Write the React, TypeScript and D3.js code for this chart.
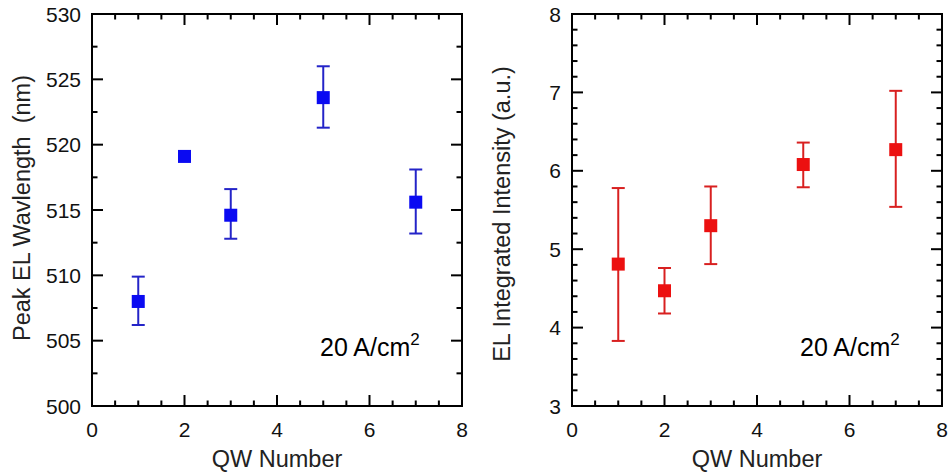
import React from "react";
import * as d3 from "d3";

const qw = [1, 2, 3, 5, 7];
const wavelength = [508.0, 519.1, 514.6, 523.6, 515.6];
const wavelengthHi = [509.9, 519.1, 516.6, 526.0, 518.1];
const wavelengthLo = [506.2, 519.1, 512.8, 521.3, 513.2];

const intensity = [4.81, 4.47, 5.3, 6.08, 6.27];
const intensityHi = [5.78, 4.76, 5.8, 6.36, 7.02];
const intensityLo = [3.83, 4.18, 4.81, 5.79, 5.54];

const xTicks = [0, 2, 4, 6, 8];
const xMinor = d3.range(0, 8.001, 0.5);
const leftYTicks = [500, 505, 510, 515, 520, 525, 530];
const leftYMinor = d3.range(500, 530.001, 2.5);
const rightYTicks = [3, 4, 5, 6, 7, 8];
const rightYMinor = d3.range(3, 8.001, 0.2);

const FONT = "Liberation Sans, Arial, sans-serif";

type PanelProps = {
  x0: number;
  yDomain: [number, number];
  yTicks: number[];
  yMinor: number[];
  ylabel: string;
  ylabelX: number;
  ylabelY: number;
  values: number[];
  hi: number[];
  lo: number[];
  markerColor: string;
  barColor: string;
  showBars: boolean[];
};

function Panel(p: PanelProps) {
  const top = 14;
  const bottom = 406;
  const width = 370;
  const x = d3.scaleLinear().domain([0, 8]).range([p.x0, p.x0 + width]);
  const y = d3.scaleLinear().domain(p.yDomain).range([bottom, top]);
  const isMajorX = (v: number) => xTicks.some((t) => Math.abs(t - v) < 1e-6);
  const isMajorY = (v: number) => p.yTicks.some((t) => Math.abs(t - v) < 1e-6);
  const ms = 13;
  const cap = 13;
  const left = p.x0;
  const right = p.x0 + width;
  return (
    <g>
      {xMinor.map((v, i) => {
        const L = isMajorX(v) ? 11 : 5.5;
        return (
          <g key={"xt" + i} stroke="#000" strokeWidth={2}>
            <line x1={x(v)} x2={x(v)} y1={bottom} y2={bottom - L} />
            <line x1={x(v)} x2={x(v)} y1={top} y2={top + L} />
          </g>
        );
      })}
      {p.yMinor.map((v, i) => {
        const L = isMajorY(v) ? 11 : 5.5;
        return (
          <g key={"yt" + i} stroke="#000" strokeWidth={2}>
            <line x1={left} x2={left + L} y1={y(v)} y2={y(v)} />
            <line x1={right} x2={right - L} y1={y(v)} y2={y(v)} />
          </g>
        );
      })}
      <rect x={left} y={top} width={width} height={bottom - top} fill="none" stroke="#000" strokeWidth={2} />
      {xTicks.map((v) => (
        <text key={"xl" + v} x={x(v)} y={437} textAnchor="middle" fontSize={21} fontFamily={FONT} fill="#111">
          {v}
        </text>
      ))}
      {p.yTicks.map((v) => (
        <text key={"yl" + v} x={left - 11} y={y(v)} dy="0.36em" textAnchor="end" fontSize={21} fontFamily={FONT} fill="#111">
          {v}
        </text>
      ))}
      <text x={(left + right) / 2} y={467} textAnchor="middle" fontSize={23.5} fontFamily={FONT} fill="#222">
        QW Number
      </text>
      <text
        transform={`translate(${p.ylabelX},${p.ylabelY}) rotate(-90)`}
        textAnchor="middle"
        dy="0.36em"
        fontSize={23.5}
        fontFamily={FONT}
        fill="#222"
        style={{ whiteSpace: "pre" }}
      >
        {p.ylabel}
      </text>
      {qw.map((q, i) =>
        p.showBars[i] ? (
          <g key={"eb" + i} stroke={p.barColor} strokeWidth={2}>
            <line x1={x(q)} x2={x(q)} y1={y(p.hi[i])} y2={y(p.lo[i])} />
            <line x1={x(q) - cap / 2} x2={x(q) + cap / 2} y1={y(p.hi[i])} y2={y(p.hi[i])} />
            <line x1={x(q) - cap / 2} x2={x(q) + cap / 2} y1={y(p.lo[i])} y2={y(p.lo[i])} />
          </g>
        ) : null
      )}
      {qw.map((q, i) => (
        <rect key={"m" + i} x={x(q) - ms / 2} y={y(p.values[i]) - ms / 2} width={ms} height={ms} fill={p.markerColor} />
      ))}
      <text x={left + 228} y={356} fontSize={25} fontFamily={FONT} fill="#000">
        20 A/cm
        <tspan fontSize={17} dy={-11}>2</tspan>
      </text>
    </g>
  );
}

export default function App() {
  return (
    <svg width={951} height={474} style={{ position: "absolute", left: 0, top: 0, background: "#fff" }}>
      <rect width={951} height={474} fill="#fff" />
      <Panel
        x0={92}
        yDomain={[500, 530]}
        yTicks={leftYTicks}
        yMinor={leftYMinor}
        ylabel={"Peak EL Wavlength  (nm)"}
        ylabelX={22}
        ylabelY={208}
        values={wavelength}
        hi={wavelengthHi}
        lo={wavelengthLo}
        markerColor="#0a0af2"
        barColor="#2424c8"
        showBars={[true, false, true, true, true]}
      />
      <Panel
        x0={572}
        yDomain={[3, 8]}
        yTicks={rightYTicks}
        yMinor={rightYMinor}
        ylabel={"EL Integrated Intensity (a.u.)"}
        ylabelX={502}
        ylabelY={214}
        values={intensity}
        hi={intensityHi}
        lo={intensityLo}
        markerColor="#ec1010"
        barColor="#d82020"
        showBars={[true, true, true, true, true]}
      />
    </svg>
  );
}
